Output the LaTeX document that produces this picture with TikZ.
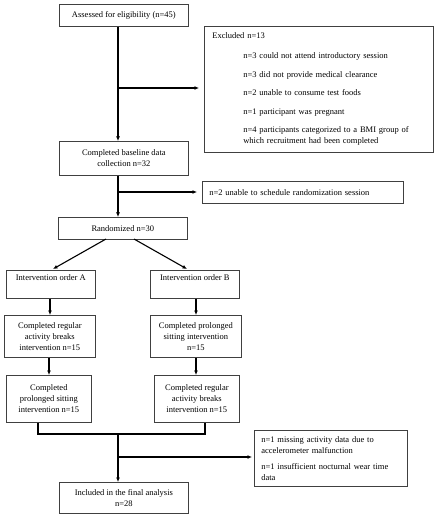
\documentclass[tikz,border=0pt]{standalone}
\usepackage{fontspec}
\setmainfont{Liberation Serif}
\usetikzlibrary{arrows.meta}
\begin{document}
\begin{tikzpicture}[x=1pt,y=-1pt,
 box/.style={draw=black!75, line width=0.7pt, anchor=north west, inner sep=0pt, font=\fontsize{8.5}{11}\selectfont, align=center},
 arr/.style={line width=1.1pt, -{Latex[length=4.5pt,width=4pt]}},
 ln/.style={line width=1.1pt}]
\useasboundingbox (0,0) rectangle (441,518);
\node[box, minimum width=129, minimum height=22] (a1) at (59,4) {Assessed for eligibility (n=45)};
\node[box, minimum width=229, minimum height=126, inner xsep=8pt, text width=213pt, align=left] (excl) at (204,26) {Excluded n=13\\[9pt]
\hspace*{31pt}n=3 could not attend introductory session\\[7.5pt]
\hspace*{31pt}n=3 did not provide medical clearance\\[7.5pt]
\hspace*{31pt}n=2 unable to consume test foods\\[7.5pt]
\hspace*{31pt}n=1 participant was pregnant\\[7.5pt]
\hspace*{31pt}n=4 participants categorized to a BMI group of\\
\hspace*{31pt}which recruitment had been completed};
\node[box, minimum width=129, minimum height=34] (a2) at (59,141) {Completed baseline data\\collection n=32};
\node[box, minimum width=201, minimum height=22, inner xsep=7pt, text width=187pt, align=left] (ex2) at (202,181) {n=2 unable to schedule randomization session};
\node[box, minimum width=129, minimum height=22] (a3) at (58,217) {Randomized n=30};
\node[box, minimum width=89, minimum height=28, text height=10pt, text depth=18pt] (ia) at (6,270) {Intervention order A};
\node[box, minimum width=89, minimum height=28, text height=10pt, text depth=18pt] (ib) at (150,270) {Intervention order B};
\node[box, minimum width=91, minimum height=42] (a4) at (4,315) {Completed regular\\activity breaks\\intervention n=15};
\node[box, minimum width=91, minimum height=42] (b4) at (150,315) {Completed prolonged\\sitting intervention\\n=15};
\node[box, minimum width=85, minimum height=47] (a5) at (6,375) {Completed\\prolonged sitting\\intervention n=15};
\node[box, minimum width=85, minimum height=47] (b5) at (154,375) {Completed regular\\activity breaks\\intervention n=15};
\node[box, minimum width=153, minimum height=56, inner xsep=7pt, text width=139pt, align=left] (ex3) at (254,430) {n=1 missing activity data due to\\accelerometer malfunction\\[5pt]n=1 insufficient nocturnal wear time\\data};
\node[box, minimum width=129, minimum height=31] (fin) at (59,482) {Included in the final analysis\\n=28};
% spine and junction coordinates
\coordinate (sp) at (118,0);
\coordinate (j1) at (118,88);
\coordinate (j2) at (118,192);
\coordinate (j3) at (118,457);
\coordinate (m) at (118,434);
\coordinate (ra) at (106,239);
\coordinate (rb) at (134,239);
\coordinate (ta) at (53,269);
\coordinate (tb) at (187,269);
\coordinate (la) at (38,434);
\coordinate (lb) at (205,434);
\draw[arr] (a1.south -| sp) -- (a2.north -| sp);
\draw[arr, shorten >=5pt] (j1) -- (j1 -| excl.west);
\draw[arr] (a2.south -| sp) -- (a3.north -| sp);
\draw[arr, shorten >=5pt] (j2) -- (j2 -| ex2.west);
\draw[arr] (ra) -- (ta);
\draw[arr] (rb) -- (tb);
\draw[arr] (ia.south -| 50,0) -- (a4.north -| 50,0);
\draw[arr] (ib.south -| 196,0) -- (b4.north -| 196,0);
\draw[arr] (a4.south -| 49,0) -- (a5.north -| 49,0);
\draw[arr] (b4.south -| 196,0) -- (b5.north -| 196,0);
\draw[ln] (a5.south -| la) -- (la) -- (lb) -- (b5.south -| lb);
\draw[arr] (m) -- (fin.north -| m);
\draw[arr, shorten >=2pt] (j3) -- (j3 -| ex3.west);
\end{tikzpicture}
\end{document}
